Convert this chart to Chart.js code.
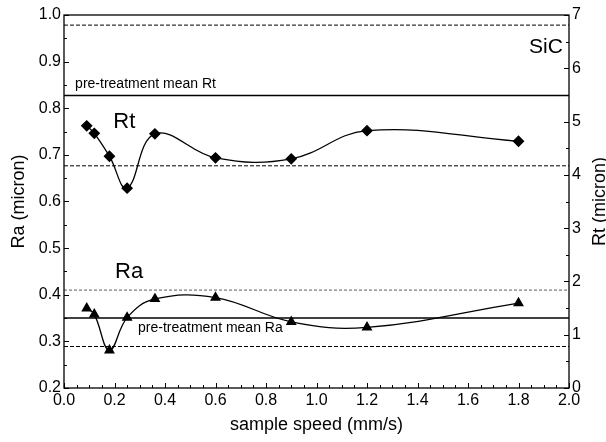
<!DOCTYPE html>
<html>
<head>
<meta charset="utf-8">
<script src="https://cdn.jsdelivr.net/npm/chart.js@4.4.0/dist/chart.umd.min.js"></script>
<style>
  html, body { margin: 0; padding: 0; background: #fff; }
</style>
</head>
<body>
<canvas id="grafico" width="606" height="442"></canvas>
<script>
// Datos
const speeds = [0.09, 0.12, 0.18, 0.25, 0.36, 0.6, 0.9, 1.2, 1.8];
const raValues = [0.371, 0.358, 0.281, 0.351, 0.391, 0.394, 0.342, 0.330, 0.382];
const rtValues = [4.92, 4.78, 4.35, 3.75, 4.77, 4.32, 4.30, 4.83, 4.63];

// lineas pre-tratamiento: superior, media, inferior
const rtMeanLines = [6.81, 5.49, 4.17];
const raMeanLines = [0.41, 0.35, 0.289];
const xRange = [0, 2];

// textos dentro del grafico (coordenadas en unidades de x / eje Ra)
const notas = [
  { text: 'Rt', x: 0.195, y: 0.758, size: 22, align: 'left' },
  { text: 'Ra', x: 0.202, y: 0.436, size: 22, align: 'left' },
  { text: 'SiC', x: 1.976, y: 0.918, size: 21, align: 'right' },
  { text: 'pre-treatment mean Rt', x: 0.044, y: 0.843, size: 14, align: 'left' },
  { text: 'pre-treatment mean Ra', x: 0.293, y: 0.321, size: 14, align: 'left' }
];

const fuente = "'Liberation Sans', Arial, sans-serif";

function linea(v, eje, ancho, dash, color) {
  return {
    data: [{ x: xRange[0], y: v }, { x: xRange[1], y: v }],
    yAxisID: eje,
    borderColor: color || '#000',
    borderWidth: ancho,
    borderDash: dash,
    pointRadius: 0,
    fill: false
  };
}

const datasets = [
  linea(rtMeanLines[0], 'y1', 1, [4, 2]),
  linea(rtMeanLines[1], 'y1', 1.5, []),
  linea(rtMeanLines[2], 'y1', 1, [4, 2]),
  linea(raMeanLines[0], 'y', 0.8, [3, 2], '#333'),
  linea(raMeanLines[1], 'y', 1.5, []),
  linea(raMeanLines[2], 'y', 1, [4, 2]),
  {
    data: speeds.map((s, i) => ({ x: s, y: rtValues[i] })),
    yAxisID: 'y1',
    borderColor: '#000',
    borderWidth: 1.3,
    tension: 0.4,
    pointStyle: 'rectRot',
    pointRadius: 5,
    pointBackgroundColor: '#000',
    pointBorderColor: '#000',
    fill: false
  },
  {
    data: speeds.map((s, i) => ({ x: s, y: raValues[i] })),
    yAxisID: 'y',
    borderColor: '#000',
    borderWidth: 1.3,
    tension: 0.4,
    pointStyle: 'triangle',
    pointRadius: 5,
    pointBackgroundColor: '#000',
    pointBorderColor: '#000',
    fill: false
  }
];

// marco, marcas hacia dentro, titulos de ejes y notas
const marco = {
  id: 'marco',
  afterDatasetsDraw(chart) {
    const ctx = chart.ctx;
    const a = chart.chartArea;
    const sx = chart.scales.x, sy = chart.scales.y, sy1 = chart.scales.y1;
    ctx.save();
    ctx.strokeStyle = '#000';
    ctx.lineWidth = 1.3;
    ctx.strokeRect(a.left, a.top, a.right - a.left, a.bottom - a.top);

    ctx.lineWidth = 1;
    ctx.beginPath();
    for (let i = 0; i <= 40; i++) {
      const px = Math.round(sx.getPixelForValue(i * 0.05)) + 0.5;
      const len = i % 4 === 0 ? 5 : 3;
      ctx.moveTo(px, a.bottom);
      ctx.lineTo(px, a.bottom - len);
    }
    for (let i = 0; i <= 16; i++) {
      const py = Math.round(sy.getPixelForValue(0.2 + i * 0.05)) + 0.5;
      const len = i % 2 === 0 ? 5 : 3;
      ctx.moveTo(a.left, py);
      ctx.lineTo(a.left + len, py);
    }
    for (let i = 0; i <= 14; i++) {
      const py = Math.round(sy1.getPixelForValue(i * 0.5)) + 0.5;
      const len = i % 2 === 0 ? 5 : 3;
      ctx.moveTo(a.right, py);
      ctx.lineTo(a.right - len, py);
    }
    ctx.stroke();

    ctx.fillStyle = '#000';
    notas.forEach(n => {
      ctx.font = n.size + 'px ' + fuente;
      ctx.textAlign = n.align;
      ctx.textBaseline = 'alphabetic';
      ctx.fillText(n.text, sx.getPixelForValue(n.x), sy.getPixelForValue(n.y));
    });

    const cy = (a.top + a.bottom) / 2;
    ctx.font = '18px ' + fuente;
    ctx.textAlign = 'center';
    [[24, 'Ra (micron)'], [605, 'Rt (micron)']].forEach(([x, t]) => {
      ctx.save();
      ctx.translate(x, cy);
      ctx.rotate(-Math.PI / 2);
      ctx.fillText(t, 0, 0);
      ctx.restore();
    });
    ctx.restore();
  }
};

const tickFont = { family: fuente, size: 16 };

new Chart(document.getElementById('grafico').getContext('2d'), {
  type: 'line',
  data: { datasets },
  options: {
    responsive: false,
    animation: false,
    layout: { padding: { top: 15, left: 0, right: 0, bottom: 0 } },
    plugins: {
      legend: { display: false },
      tooltip: { enabled: false }
    },
    scales: {
      x: {
        type: 'linear',
        min: 0,
        max: 2,
        grid: { display: false, drawTicks: false },
        border: { display: false },
        ticks: { stepSize: 0.2, color: '#000', font: tickFont, padding: 3, maxRotation: 0,
                 callback: v => v.toFixed(1) },
        title: { display: true, text: 'sample speed (mm/s)', color: '#000',
                 font: { family: fuente, size: 18 }, padding: { top: 0, bottom: 6 } },
        afterFit: s => { s.height = 54; }
      },
      y: {
        position: 'left',
        min: 0.2,
        max: 1.0,
        grid: { display: false, drawTicks: false },
        border: { display: false },
        ticks: { stepSize: 0.1, color: '#000', font: tickFont, padding: 3,
                 callback: v => v.toFixed(1) },
        afterFit: s => { s.width = 64; }
      },
      y1: {
        position: 'right',
        min: 0,
        max: 7,
        grid: { display: false, drawTicks: false },
        border: { display: false },
        ticks: { stepSize: 1, color: '#000', font: tickFont, padding: 3 },
        afterFit: s => { s.width = 37; }
      }
    }
  },
  plugins: [marco]
});
</script>
</body>
</html>
